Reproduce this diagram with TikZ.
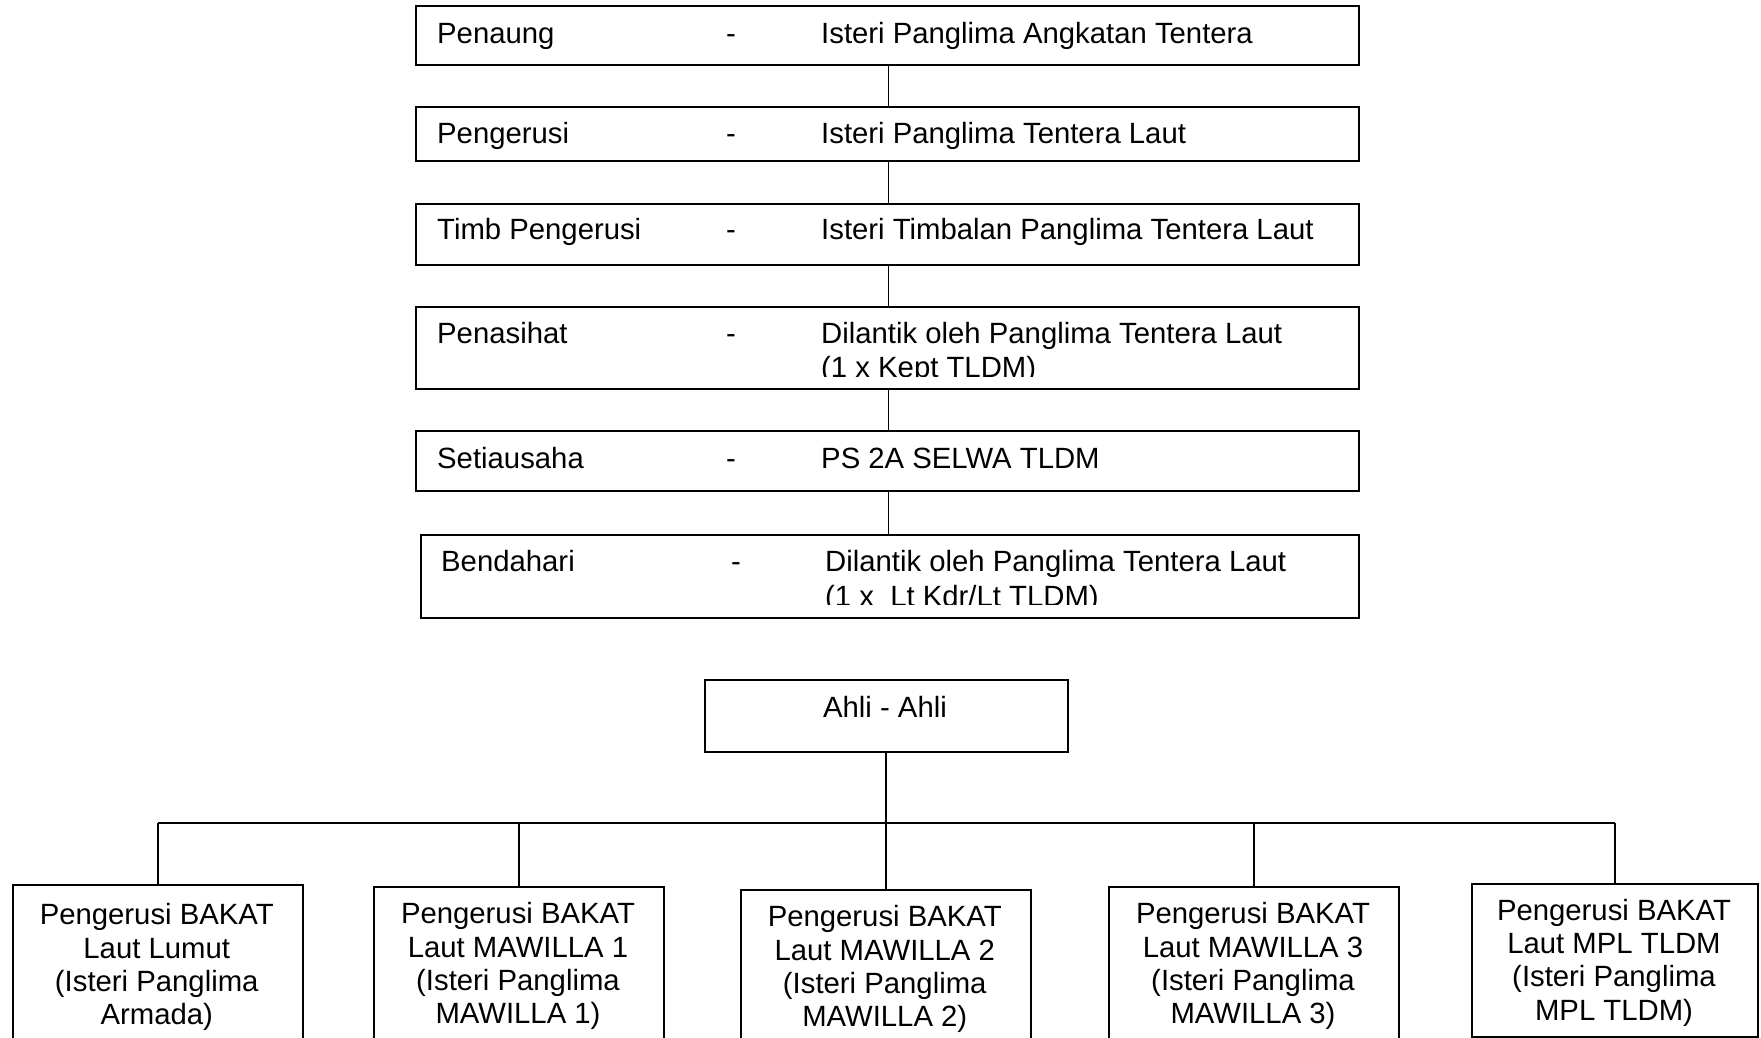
\documentclass[tikz,border=0pt]{standalone}
\usepackage{fontspec}
\setmainfont{Liberation Sans}
\begin{document}
\begin{tikzpicture}[x=1pt,y=-1pt,
  box/.style={draw, line width=2pt, inner sep=0pt, anchor=north west},
  lbl/.style={anchor=base west, inner sep=0pt, font=\fontsize{29.3}{33.2}\selectfont},
  conn/.style={line width=1.7pt},
  ctr/.style={anchor=north, inner sep=0pt, align=center, font=\fontsize{29.3}{33.2}\selectfont}]
\clip (0,0) rectangle (1761,1038);
% top column of boxes
\node[box, minimum width=942.5pt, minimum height=58.5pt] (b1) at (415,5.5) {};
\node[box, minimum width=942.5pt, minimum height=54pt] (b2) at (415,106) {};
\node[box, minimum width=942.5pt, minimum height=61pt] (b3) at (415,202.5) {};
\node[box, minimum width=942.5pt, minimum height=81.5pt] (b4) at (415,306) {};
\node[box, minimum width=942.5pt, minimum height=60pt] (b5) at (415,430) {};
\node[box, minimum width=937.5pt, minimum height=82.5pt] (b6) at (420,534) {};
\draw[conn] ([xshift=1.25pt]b1.south) -- ([xshift=1.25pt]b2.north);
\draw[conn] ([xshift=1.25pt]b2.south) -- ([xshift=1.25pt]b3.north);
\draw[conn] ([xshift=1.25pt]b3.south) -- ([xshift=1.25pt]b4.north);
\draw[conn] ([xshift=1.25pt]b4.south) -- ([xshift=1.25pt]b5.north);
\draw[conn] ([xshift=1.25pt]b5.south) -- ([xshift=1.25pt]b5.south |- b6.north);
% texts
\node[lbl] (t1a) at (437,44) {Penaung};
\node[lbl] (t1b) at (726,44) {-};
\node[lbl] (t1c) at (821,44) {Isteri Panglima Angkatan Tentera};
\node[lbl] (t2a) at (437,143.5) {Pengerusi};
\node[lbl] (t2b) at (726,143.5) {-};
\node[lbl] (t2c) at (821,143.5) {Isteri Panglima Tentera Laut};
\node[lbl] (t3a) at (437,239.3) {Timb Pengerusi};
\node[lbl] (t3b) at (726,239.3) {-};
\node[lbl] (t3c) at (821,239.3) {Isteri Timbalan Panglima Tentera Laut};
\node[lbl] (t4a) at (437,343.3) {Penasihat};
\node[lbl] (t4b) at (726,343.3) {-};
\node[lbl] (t4c) at (821,343.3) {Dilantik oleh Panglima Tentera Laut};
\begin{scope}
\clip (416,307) rectangle (1356,376);
\node[lbl] (t4d) at (821,377.5) {(1 x Kept TLDM)};
\end{scope}
\node[lbl] (t5a) at (437,468.3) {Setiausaha};
\node[lbl] (t5b) at (726,468.3) {-};
\node[lbl] (t5c) at (821,468.3) {PS 2A SELWA TLDM};
\node[lbl] (t6a) at (441,571.7) {Bendahari};
\node[lbl] (t6b) at (731,571.7) {-};
\node[lbl] (t6c) at (825,571.7) {Dilantik oleh Panglima Tentera Laut};
\begin{scope}
\clip (421,535) rectangle (1356,604.5);
\node[lbl] (t6d) at (825,606) {(1 x\ \ Lt Kdr/Lt TLDM)};
\end{scope}
% members
\node[box, minimum width=363.5pt, minimum height=71.7pt] (ahli) at (703.5,679.3) {};
\node[lbl, anchor=base] (ahlit) at (885,717.3) {Ahli - Ahli};
\coordinate (hl) at (0,823.3);
\node[box, minimum width=289.5pt, minimum height=166pt] (c1) at (12,884) {};
\node[box, minimum width=290pt, minimum height=164pt] (c2) at (373,886) {};
\node[box, minimum width=289.5pt, minimum height=161pt] (c3) at (740,889) {};
\node[box, minimum width=290pt, minimum height=164pt] (c4) at (1108,886) {};
\node[box, minimum width=286pt, minimum height=153pt] (c5) at (1471,883) {};
\draw[conn] (ahli.south) -- (ahli.south |- hl);
\draw[conn] (c1.north |- hl) -- (c5.north |- hl);
\draw[conn] (c1.north |- hl) -- (c1.north);
\draw[conn] (c2.north |- hl) -- (c2.north);
\draw[conn] (c3.north |- hl) -- (c3.north);
\draw[conn] (c4.north |- hl) -- (c4.north);
\draw[conn] (c5.north |- hl) -- (c5.north);
\node[ctr] (c1t) at (156.75,903.5) {Pengerusi BAKAT\\Laut Lumut\\(Isteri Panglima\\Armada)};
\node[ctr] (c2t) at (518,902.5) {Pengerusi BAKAT\\Laut MAWILLA 1\\(Isteri Panglima\\MAWILLA 1)};
\node[ctr] (c3t) at (884.75,905.5) {Pengerusi BAKAT\\Laut MAWILLA 2\\(Isteri Panglima\\MAWILLA 2)};
\node[ctr] (c4t) at (1253,902.5) {Pengerusi BAKAT\\Laut MAWILLA 3\\(Isteri Panglima\\MAWILLA 3)};
\node[ctr] (c5t) at (1614,899) {Pengerusi BAKAT\\Laut MPL TLDM\\(Isteri Panglima\\MPL TLDM)};
\end{tikzpicture}
\end{document}
